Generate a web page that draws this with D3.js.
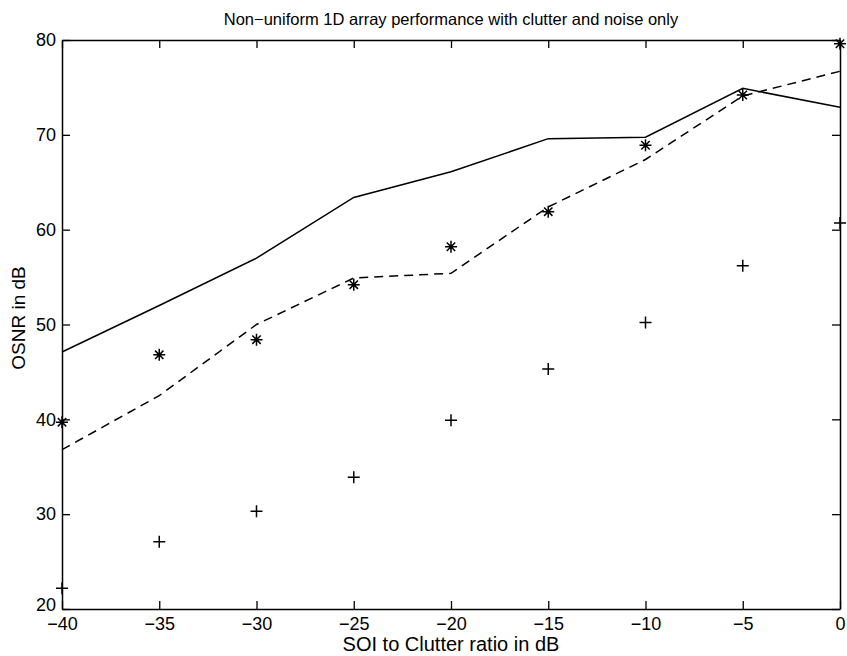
<!DOCTYPE html>
<html><head><meta charset="utf-8">
<script src="https://cdn.jsdelivr.net/npm/d3@7"></script>
<style>body{margin:0;background:#fff}text{font-family:"Liberation Sans",Arial,Helvetica,sans-serif;fill:#000}</style>
</head><body><svg id="c" width="847" height="656"></svg>
<script>
const xs = [-40, -35, -30, -25, -20, -15, -10, -5, 0];
const solidLine = [47.1, 52.0, 57.0, 63.4, 66.1, 69.6, 69.75, 74.9, 72.9];
const dashedLine = [36.8, 42.5, 50.0, 54.9, 55.4, 62.4, 67.4, 74.1, 76.7];
const starPts = [39.7, 46.8, 48.4, 54.2, 58.2, 61.9, 68.9, 74.2, 79.6];
const plusPts = [22.2, 27.1, 30.3, 33.9, 39.9, 45.3, 50.2, 56.2, 60.7];
const xTicks = [-40, -35, -30, -25, -20, -15, -10, -5, 0];
const yTicks = [20, 30, 40, 50, 60, 70, 80];
const title = "Non\u2212uniform 1D array performance with clutter and noise only";
const xLabel = "SOI to Clutter ratio in dB";
const yLabel = "OSNR in dB";

const L = 62, R = 840, T = 40, B = 609;
const svg = d3.select("#c");
const x = d3.scaleLinear().domain([-40, 0]).range([L, R]);
const y = d3.scaleLinear().domain([20, 80]).range([B, T]);
const fmt = d => (d < 0 ? "\u2212" + Math.abs(d) : String(d));

// axes (inward ticks on all sides)
const tl = 8;
svg.append("g").attr("transform", `translate(0,${B})`)
  .call(d3.axisBottom(x).tickValues(xTicks).tickSizeInner(-tl).tickSizeOuter(0).tickPadding(8).tickFormat(fmt));
svg.append("g").attr("transform", `translate(0,${T})`)
  .call(d3.axisTop(x).tickValues(xTicks).tickSizeInner(-tl).tickSizeOuter(0).tickFormat(""));
const yAx = svg.append("g").attr("transform", `translate(${L},0)`)
  .call(d3.axisLeft(y).tickValues(yTicks).tickSizeInner(-tl).tickSizeOuter(0).tickPadding(6).tickFormat(fmt));
yAx.selectAll(".tick text").filter(d => d === 20).attr("y", -4);
svg.append("g").attr("transform", `translate(${R},0)`)
  .call(d3.axisRight(y).tickValues(yTicks).tickSizeInner(-tl).tickSizeOuter(0).tickFormat(""));
svg.selectAll(".domain").attr("stroke", "#000").attr("stroke-width", 1.5);
svg.selectAll(".tick line").attr("stroke", "#000").attr("stroke-width", 1.3);
svg.selectAll(".tick text").style("font-size", "18px").style("font-family", '"Liberation Sans",Arial,sans-serif').attr("fill", "#000");

const line = d3.line().x((d, i) => x(xs[i])).y(d => y(d));
svg.append("path").datum(solidLine).attr("d", line).attr("fill", "none").attr("stroke", "#000").attr("stroke-width", 1.5);
svg.append("path").datum(dashedLine).attr("d", line).attr("fill", "none").attr("stroke", "#000").attr("stroke-width", 1.5).attr("stroke-dasharray", "9,6");

// star markers
const s = 6;
const star = svg.append("g").selectAll("g").data(starPts).join("g")
  .attr("transform", (d, i) => `translate(${x(xs[i])},${y(d)})`);
star.append("path").attr("d", `M${-s},0H${s}M0,${-s}V${s}M${-s*0.7},${-s*0.7}L${s*0.7},${s*0.7}M${-s*0.7},${s*0.7}L${s*0.7},${-s*0.7}`)
  .attr("stroke", "#000").attr("stroke-width", 1.5).attr("fill", "none");
// plus markers
const p = 6;
svg.append("g").selectAll("path").data(plusPts).join("path")
  .attr("transform", (d, i) => `translate(${x(xs[i])},${y(d)})`)
  .attr("d", `M${-p},0H${p}M0,${-p}V${p}`).attr("stroke", "#000").attr("stroke-width", 1.5);

svg.append("text").attr("x", (L + R) / 2).attr("y", 25).attr("text-anchor", "middle").style("font-size", "16.5px").text(title);
svg.append("text").attr("x", (L + R) / 2).attr("y", 651).attr("text-anchor", "middle").style("font-size", "20px").text(xLabel);
svg.append("text").attr("transform", `translate(25,318) rotate(-90)`).attr("text-anchor", "middle").style("font-size", "19px").text(yLabel);
</script></body></html>
